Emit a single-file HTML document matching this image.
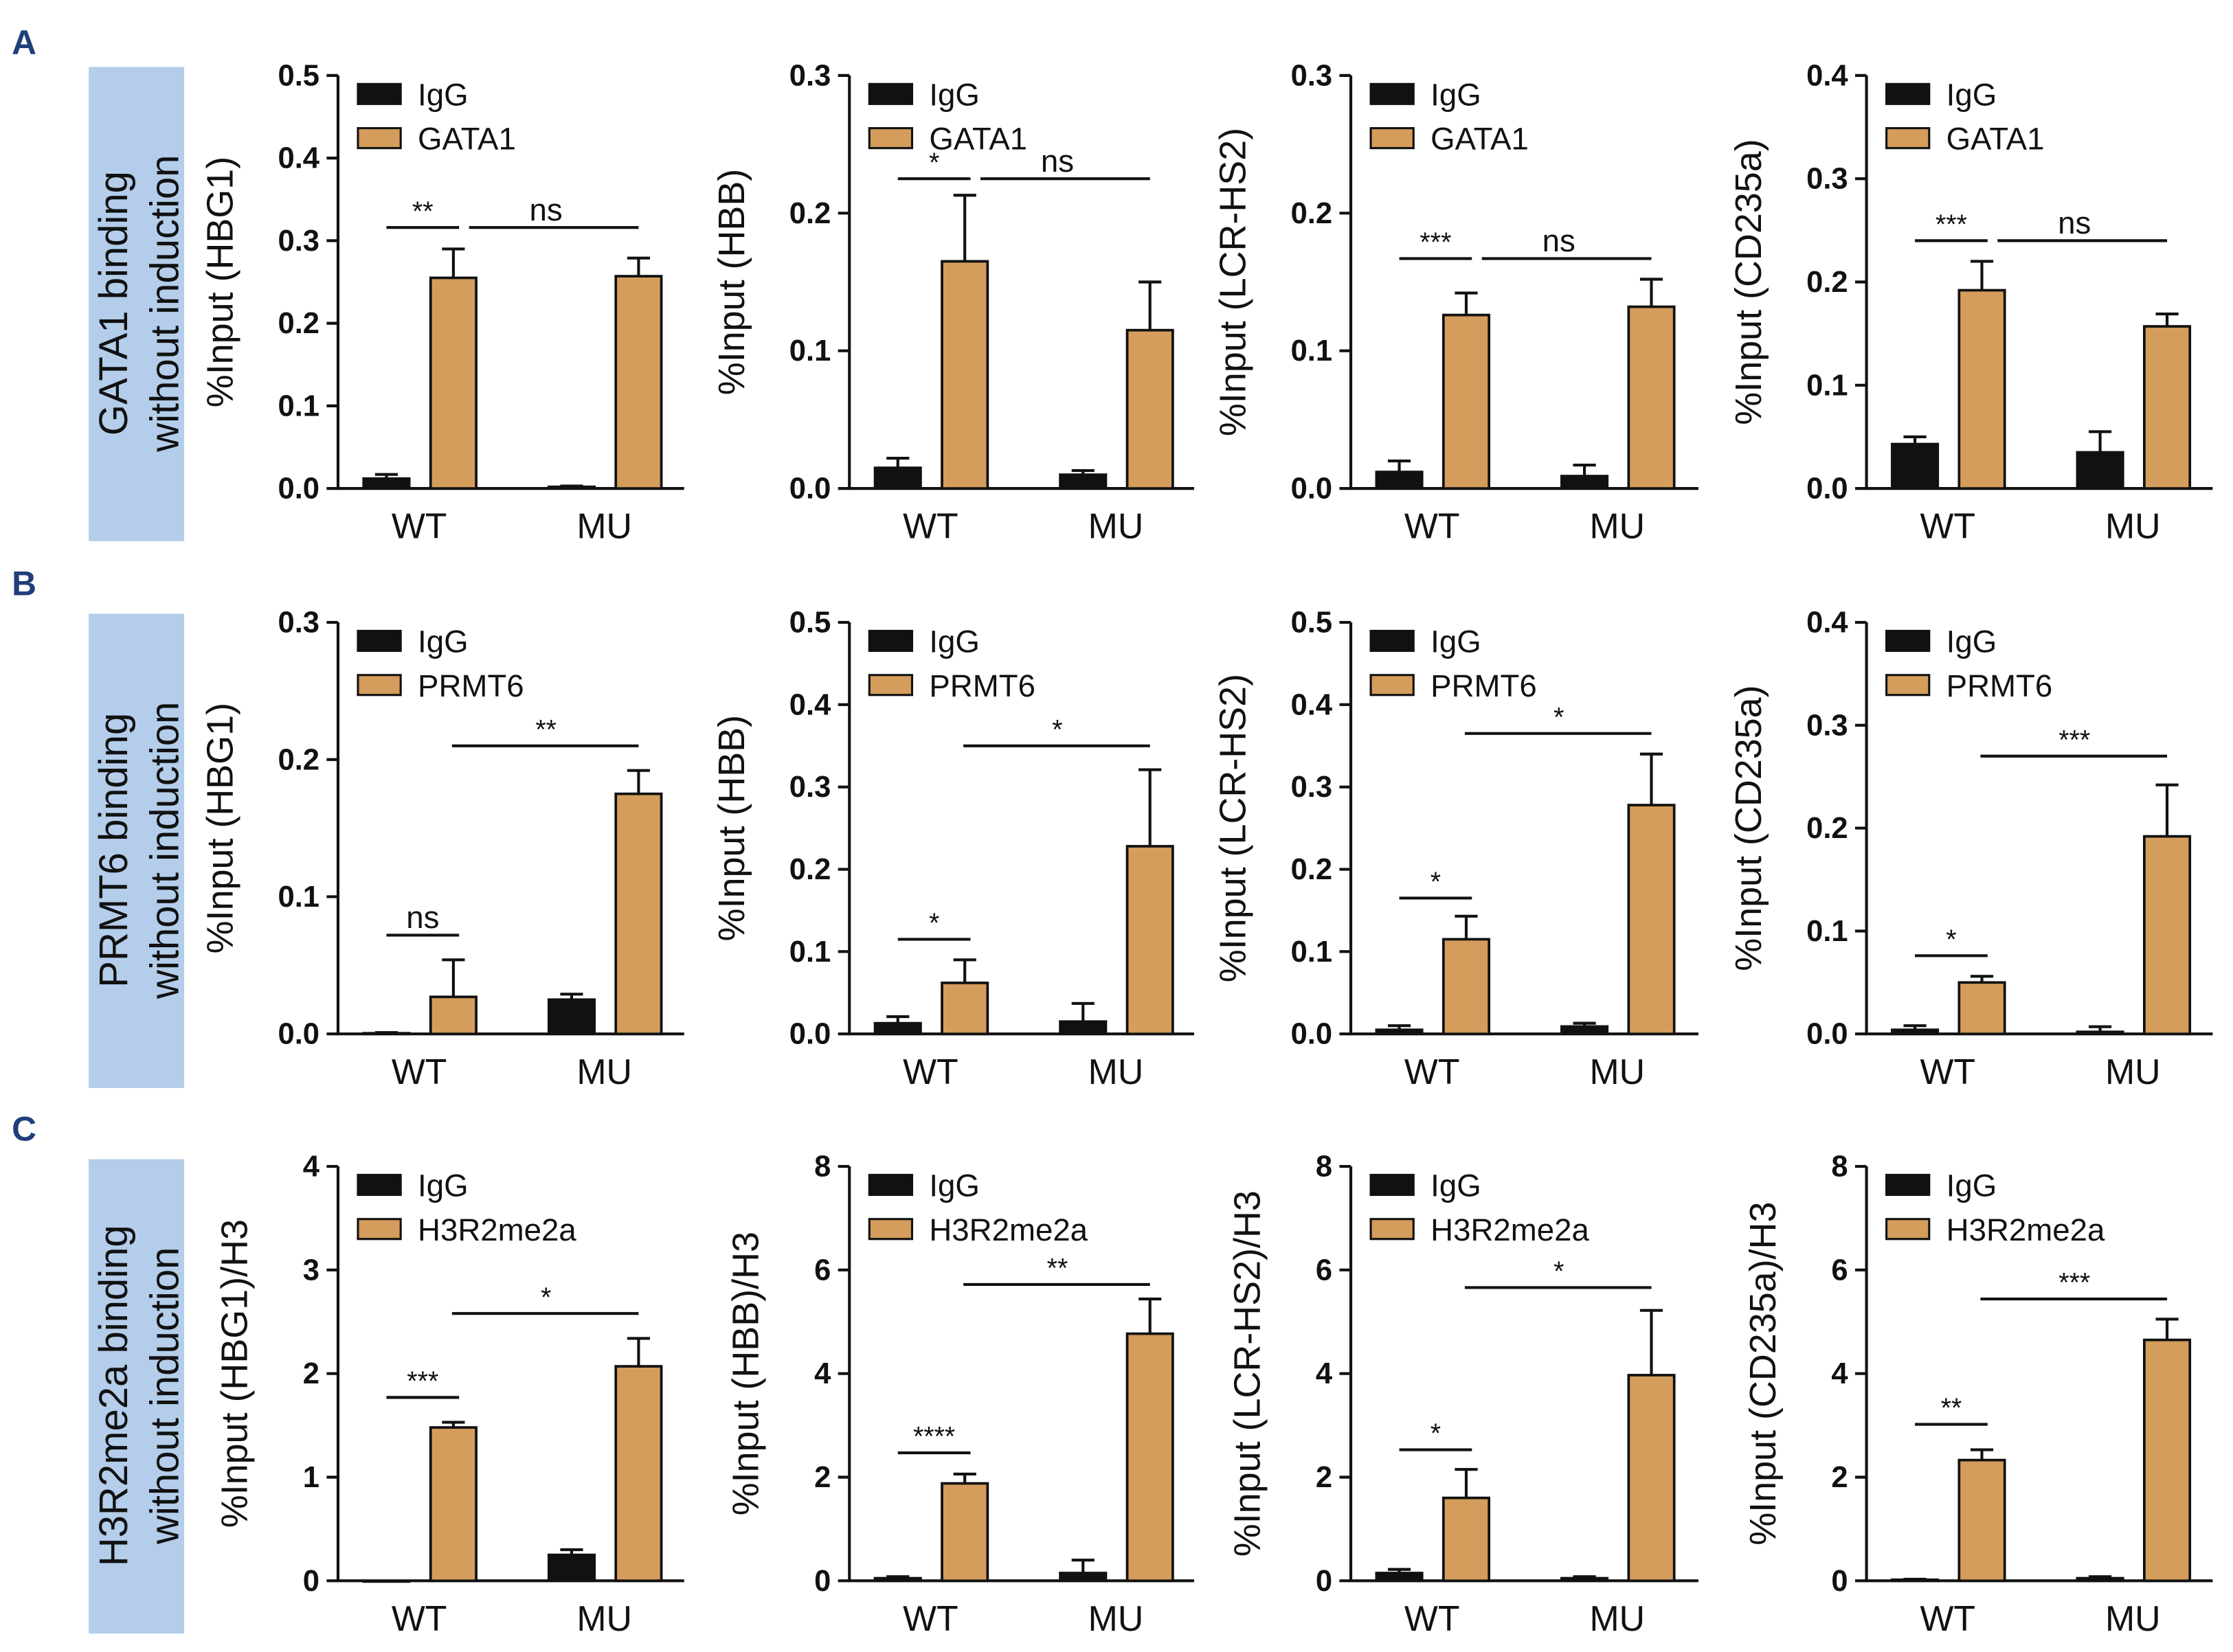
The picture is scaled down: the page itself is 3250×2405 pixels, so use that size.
<!DOCTYPE html>
<html><head><meta charset="utf-8"><style>
html,body{margin:0;padding:0;background:#fff;}
svg{display:block;font-family:"Liberation Sans",Arial,sans-serif;}
</style></head><body>
<svg id="fig" width="3250" height="2405" viewBox="0 0 1567 1160" xmlns="http://www.w3.org/2000/svg"></svg>
<script>
const rowLetters = ["A","B","C"];
const rowTitles = [["GATA1 binding","without induction"],["PRMT6 binding","without induction"],["H3R2me2a binding","without induction"]];
const antibodies = ["GATA1","PRMT6","H3R2me2a"];
const genes = ["HBG1","HBB","LCR-HS2","CD235a"];
const categories = ["WT","MU"];
const yMaxes = [[0.5,0.3,0.3,0.4],[0.3,0.5,0.5,0.4],[4,8,8,8]];
const yStepsArr = [[0.1,0.1,0.1,0.1],[0.1,0.1,0.1,0.1],[1,2,2,2]];
const igg = [
 [[0.012,0.002],[0.015,0.010],[0.012,0.009],[0.043,0.035]],
 [[0.0005,0.025],[0.013,0.015],[0.005,0.009],[0.004,0.002]],
 [[0.0,0.25],[0.05,0.15],[0.15,0.05],[0.02,0.05]]];
const iggErr = [
 [[0.005,0.001],[0.007,0.003],[0.008,0.008],[0.007,0.02]],
 [[0.0005,0.004],[0.008,0.022],[0.005,0.004],[0.004,0.005]],
 [[0.0,0.05],[0.03,0.25],[0.07,0.03],[0.01,0.03]]];
const ab = [
 [[0.255,0.257],[0.165,0.115],[0.126,0.132],[0.192,0.157]],
 [[0.027,0.175],[0.062,0.228],[0.115,0.278],[0.05,0.192]],
 [[1.48,2.07],[1.88,4.77],[1.6,3.97],[2.33,4.65]]];
const abErr = [
 [[0.035,0.022],[0.048,0.035],[0.016,0.02],[0.028,0.012]],
 [[0.027,0.017],[0.028,0.093],[0.028,0.062],[0.006,0.05]],
 [[0.05,0.27],[0.18,0.67],[0.55,1.25],[0.2,0.4]]];
const sigLabels = [
 [["**","ns"],["*","ns"],["***","ns"],["***","ns"]],
 [["ns","**"],["*","*"],["*","*"],["*","***"]],
 [["***","*"],["****","**"],["*","*"],["**","***"]]];
const sig1Y = [[0.316,0.225,0.167,0.24],[0.072,0.115,0.165,0.076],[1.77,2.47,2.53,3.02]];
const sig2Y = [[0.316,0.225,0.167,0.24],[0.21,0.35,0.365,0.27],[2.58,5.72,5.66,5.44]];

const NS="http://www.w3.org/2000/svg";
const svg=document.getElementById('fig');
function el(tag,attrs,parent,text){const e=document.createElementNS(NS,tag);for(const k in attrs)e.setAttribute(k,attrs[k]);if(text!==undefined)e.textContent=text;(parent||svg).appendChild(e);return e;}
const colX=[237,596,948,1310];
const axW=[243,242,244,243];
const rowTop=[53,437,819];
const rowBot=[343,726,1110];
const letterY=[38,418,801];
const boxY=[47,431,814];
const tan="#d49d5c";
function fmt(v,step){return step<1?v.toFixed(1):String(Math.round(v));}
for(let r=0;r<3;r++){
  const L=el('text',{x:8,y:letterY[r],'font-size':24,'font-weight':'bold',fill:'#1f3f7a'},svg,rowLetters[r]);
  
  
  const bx=el('rect',{x:62,y:boxY[r],width:67,height:333,fill:'#b3cdea'});
  
  
  const tt=el('text',{transform:`translate(95,${boxY[r]+166}) rotate(-90)`,'text-anchor':'middle','font-size':28,fill:'#111'});
  
  
  el('tspan',{x:0,dy:-6},tt,rowTitles[r][0]);
  el('tspan',{x:0,dy:36},tt,rowTitles[r][1]);
  for(let c=0;c<4;c++){
    const g=el('g',{});
    
    
    const x0=colX[c],y0=rowBot[r],yT=rowTop[r],ymax=yMaxes[r][c],step=yStepsArr[r][c];
    const ys=v=>y0-(v/ymax)*(y0-yT);
    const xr=x0+axW[c];
    const ya=el('line',{x1:x0,y1:yT,x2:x0,y2:y0,stroke:'#111','stroke-width':2},g);
    
    
    const xa=el('line',{x1:x0-1,y1:y0,x2:xr,y2:y0,stroke:'#111','stroke-width':2},g);
    
    
    const n=Math.round(ymax/step);
    for(let i=0;i<=n;i++){
      const v=i*step,y=ys(v);
      el('line',{x1:x0-8,y1:y,x2:x0,y2:y,stroke:'#111','stroke-width':2},g);
      const t=el('text',{x:x0-13,y:y+7,'text-anchor':'end','font-size':21,'font-weight':'bold',fill:'#111'},g,fmt(v,step));
      
      
    }
    const title='%Input ('+genes[c]+')'+(r===2?'/H3':'');
    const tx=x0-(r===2?64:74);
    const yt=el('text',{transform:`translate(${tx},${(yT+y0)/2}) rotate(-90)`,'text-anchor':'middle','font-size':26,fill:'#111'},g,title);
    
    
    const offs=[[18,65],[148,195]];
    const bw=32;
    const cx=[];
    for(let k=0;k<2;k++){
      const items=[[igg[r][c][k],iggErr[r][c][k],'#111'],[ab[r][c][k],abErr[r][c][k],tan]];
      for(let j=0;j<2;j++){
        const [v,e,col]=items[j];
        const bx0=x0+offs[k][j];
        const by=ys(v);
        if(e>0){
          const ey=ys(v+e);
          el('line',{x1:bx0+bw/2,y1:by,x2:bx0+bw/2,y2:ey,stroke:'#111','stroke-width':2},g);
          el('line',{x1:bx0+bw/2-8,y1:ey,x2:bx0+bw/2+8,y2:ey,stroke:'#111','stroke-width':2},g);
        }
        const b=el('rect',{x:bx0,y:by,width:bw,height:Math.max(y0-by,0.5),fill:col,stroke:'#111','stroke-width':1.8},g);
        
        
        cx.push(bx0+bw/2);
      }
      const xl=el('text',{x:x0+(k===0?57:187),y:y0+35,'text-anchor':'middle','font-size':25,fill:'#111'},g,categories[k]);
      
      
    }
    const s1=ys(sig1Y[r][c]),s2=ys(sig2Y[r][c]);
    el('line',{x1:cx[0],y1:s1,x2:cx[1]+4,y2:s1,stroke:'#111','stroke-width':2},g);
    const st1=el('text',{x:(cx[0]+cx[1])/2+2,y:s1-5,'text-anchor':'middle','font-size':sigLabels[r][c][0]==='ns'?22:19,fill:'#111'},g,sigLabels[r][c][0]);
    
    
    el('line',{x1:cx[1]+(r===0?11:-1),y1:s2,x2:cx[3],y2:s2,stroke:'#111','stroke-width':2},g);
    const st2=el('text',{x:(cx[1]+cx[3])/2,y:s2-5,'text-anchor':'middle','font-size':sigLabels[r][c][1]==='ns'?22:19,fill:'#111'},g,sigLabels[r][c][1]);
    
    
    const ly=yT+13;
    const names=['IgG',antibodies[r]],cols=['#111',tan];
    for(let j=0;j<2;j++){
      const sw=el('rect',{x:x0+14,y:ly+j*31-7,width:30,height:14,fill:cols[j],stroke:'#111','stroke-width':1.5},g);
      
      
      const lt=el('text',{x:x0+56,y:ly+j*31+8,'font-size':22,fill:'#111'},g,names[j]);
      
      
    }
  }
}
</script>
</body></html>
